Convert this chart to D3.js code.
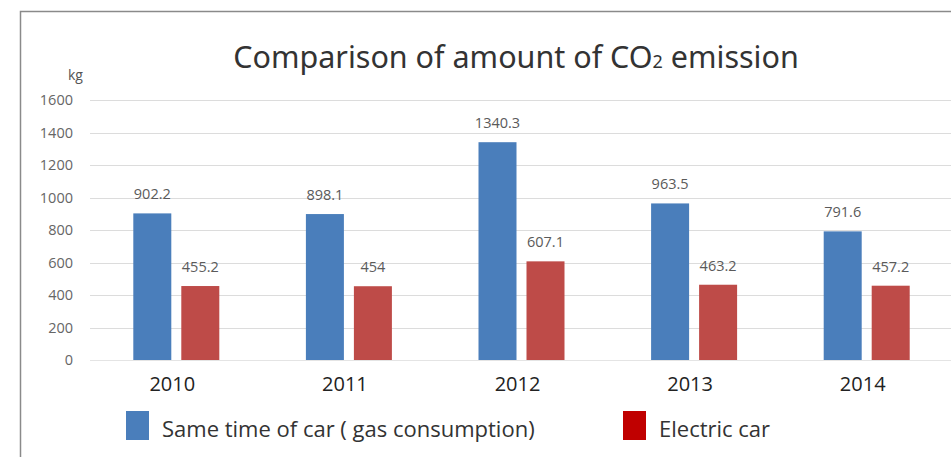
<!DOCTYPE html>
<html>
<head>
<meta charset="utf-8">
<script src="https://cdn.jsdelivr.net/npm/d3@7"></script>
<style>
  body { margin: 0; background: #fff; }
  svg { display: block; }
</style>
</head>
<body>
<svg id="chart" width="951" height="457"></svg>
<script>
var years = ["2010", "2011", "2012", "2013", "2014"];
var gasValues = [902.2, 898.1, 1340.3, 963.5, 791.6];
var electricValues = [455.2, 454, 607.1, 463.2, 457.2];
var yTicks = [0, 200, 400, 600, 800, 1000, 1200, 1400, 1600];
var seriesNames = ["Same time of car ( gas consumption)", "Electric car"];

var svg = d3.select("#chart");
var width = 951, height = 457;
var font = "'Open Sans', 'Noto Sans', sans-serif";

// frame of the chart area (cut off at right and bottom)
svg.append("path")
    .attr("d", "M20.5," + height + "V11.5H" + width)
    .attr("fill", "none")
    .attr("stroke", "#8a8a8a")
    .attr("stroke-width", 1.5);

var x = d3.scaleBand().domain(years).range([90, 953]);
var y = d3.scaleLinear().domain([0, 1600]).range([360, 100]);

var barW = 38, barGap = 10;

// gridlines
svg.append("g")
    .selectAll("line")
    .data(yTicks.filter(function(d) { return d > 0; }))
    .enter()
    .append("line")
    .attr("x1", 90)
    .attr("x2", width)
    .attr("y1", function(d) { return Math.round(y(d)) + 0.5; })
    .attr("y2", function(d) { return Math.round(y(d)) + 0.5; })
    .attr("stroke", "#dcdcdc")
    .attr("stroke-width", 1);

// zero line (faint)
svg.append("line")
    .attr("x1", 90).attr("x2", width)
    .attr("y1", y(0) + 0.5).attr("y2", y(0) + 0.5)
    .attr("stroke", "#e4e4e4");

// y axis labels
var yAxis = d3.axisLeft(y).tickValues(yTicks).tickFormat(d3.format("d"))
    .tickSize(0).tickPadding(0);
var yg = svg.append("g")
    .attr("transform", "translate(73,0)")
    .call(yAxis);
yg.select(".domain").remove();
yg.selectAll("text")
    .attr("font-family", font)
    .attr("font-size", 14.5)
    .attr("fill", "#666");

svg.append("text")
    .attr("x", 68).attr("y", 80)
    .attr("font-family", font)
    .attr("font-size", 14)
    .attr("fill", "#555")
    .text("kg");

// title
var title = svg.append("text")
    .attr("x", 516).attr("y", 68)
    .attr("text-anchor", "middle")
    .attr("font-family", "'Noto Sans', 'Open Sans', sans-serif")
    .attr("font-size", 30.5)
    .attr("fill", "#333");
title.append("tspan").text("Comparison of amount of CO");
title.append("tspan").attr("font-size", 18).text("2");
title.append("tspan").text(" emission");

function center(d) { return x(d) + x.bandwidth() / 2; }

var groups = svg.append("g")
    .selectAll("g")
    .data(years)
    .enter()
    .append("g");

// gas bars
groups.append("rect")
    .attr("x", function(d) { return center(d) - barGap / 2 - barW; })
    .attr("y", function(d, i) { return y(gasValues[i]); })
    .attr("width", barW)
    .attr("height", function(d, i) { return y(0) - y(gasValues[i]); })
    .attr("fill", "#4a7ebb");

// electric bars
groups.append("rect")
    .attr("x", function(d) { return center(d) + barGap / 2; })
    .attr("y", function(d, i) { return y(electricValues[i]); })
    .attr("width", barW)
    .attr("height", function(d, i) { return y(0) - y(electricValues[i]); })
    .attr("fill", "#be4b48");

// value labels
groups.append("text")
    .attr("x", function(d) { return center(d) - barGap / 2 - barW / 2; })
    .attr("y", function(d, i) { return y(gasValues[i]) - 14; })
    .attr("text-anchor", "middle")
    .attr("font-family", font)
    .attr("font-size", 14.5)
    .attr("fill", "#5a5a5a")
    .text(function(d, i) { return gasValues[i]; });

groups.append("text")
    .attr("x", function(d) { return center(d) + barGap / 2 + barW / 2; })
    .attr("y", function(d, i) { return y(electricValues[i]) - 14; })
    .attr("text-anchor", "middle")
    .attr("font-family", font)
    .attr("font-size", 14.5)
    .attr("fill", "#5a5a5a")
    .text(function(d, i) { return electricValues[i]; });

// category labels
var xAxis = d3.axisBottom(x).tickSize(0).tickPadding(0);
var xg = svg.append("g")
    .attr("transform", "translate(-4,377)")
    .call(xAxis);
xg.select(".domain").remove();
xg.selectAll("text")
    .attr("font-family", font)
    .attr("font-size", 20)
    .attr("fill", "#222");

// legend
var legendColors = ["#4a7ebb", "#c00000"];
var legendX = [126, 623];
var legend = svg.append("g")
    .selectAll("g")
    .data(seriesNames)
    .enter()
    .append("g")
    .attr("transform", function(d, i) { return "translate(" + legendX[i] + ",411)"; });

legend.append("rect")
    .attr("width", 23)
    .attr("height", 29)
    .attr("fill", function(d, i) { return legendColors[i]; });

legend.append("text")
    .attr("x", 36)
    .attr("y", 26)
    .attr("font-family", font)
    .attr("font-size", 22)
    .attr("fill", "#333")
    .text(function(d) { return d; });
</script>
</body>
</html>
